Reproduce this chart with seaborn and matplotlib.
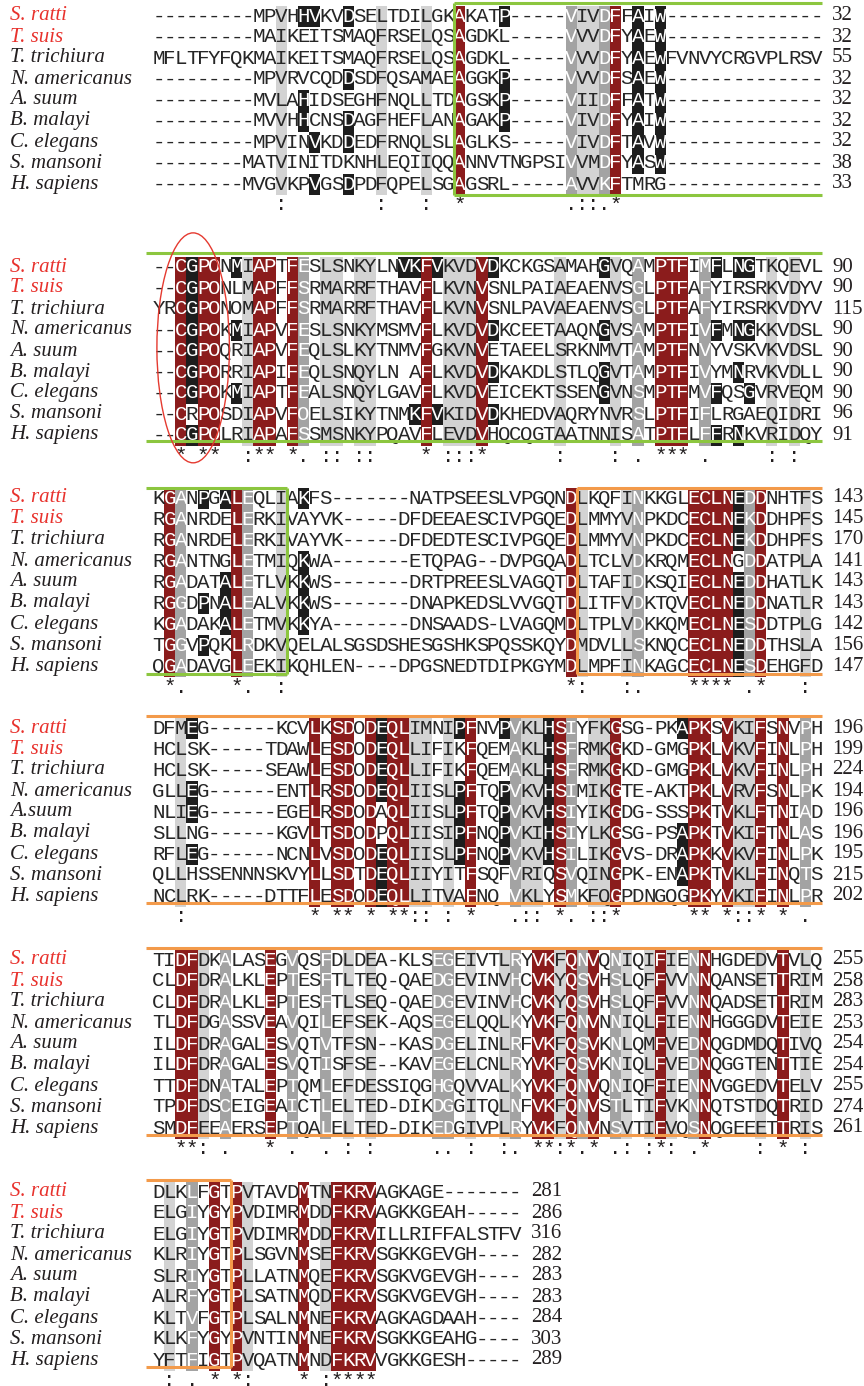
import numpy as np
import seaborn as sns
import matplotlib
matplotlib.use("Agg")
import matplotlib.pyplot as plt
from matplotlib.colors import ListedColormap
from matplotlib.patches import Ellipse

sns.set_theme(style="white")
plt.rcParams["font.family"] = ["DejaVu Sans"]

# Species order (same in every block); block 4 prints "A.suum" without a space
SPECIES = ["S. ratti", "T. suis", "T. trichiura", "N. americanus", "A. suum",
           "B. malayi", "C. elegans", "S. mansoni", "H. sapiens"]
SPECIES_B4 = ["S. ratti", "T. suis", "T. trichiura", "N. americanus", "A.suum",
              "B. malayi", "C. elegans", "S. mansoni", "H. sapiens"]
RED_NAMES = ["S. ratti", "T. suis"]

# Aligned sequences; lower-case letters are residues boxed in black
B1_SEQ = [
    "---------MPVHhvKVdSELTDILGKAKATp-----VIVDFFaIw--------------",
    "---------MAIKEITSMAQFRSELQSAGDKL-----VVVDFYaEw--------------",
    "MFLTFYFQKMAIKEITSMAQFRSELQSAGDKL-----VVVDFYaEwFVNVYCRGVPLRSV",
    "---------MPVRVCQDdSDFQSAMAEAGGKp-----VVVDFSaEw--------------",
    "---------MVLAhIDSEGHFNQLLTDAGSKp-----VIIDFFaTw--------------",
    "---------MVVHhCNSdAGFHEFLANAGAKp-----VIVDFYaIw--------------",
    "---------MPVINvKDdEDFRNQLSLAGLKS-----VIVDFTaVw--------------",
    "--------MATVINITDKNHLEQIIQQANNVTNGPSIVVMDFYaSw--------------",
    "--------MVGVKPvGSdPDFQPELSGAGSRL-----AVVKFTMRG--------------",
]
B1_CONS = ("          " " :        " ":   :  *  " "       .::" ".*        " "          ")
B1_END = [32, 32, 55, 32, 32, 32, 32, 38, 33]

B2_SEQ = [
    "--CgPONmIAPTFESLSNKYLNvkFvKVDVdKCKGSAMAHgVQAMPTFIMfLngTKQEVL",
    "--CgPONLMAPFFSRMARRFTHAVFLKVNVSNLPAIAEAENVSGLPTFAFYIRSRKVDYV",
    "YRCgPONOMAPFFSRMARRFTHAVFLKVNVSNLPAVAEAENVSGLPTFAFYIRSRKVDYV",
    "--CgPOKmIAPVFESLSNKYMSMVFLKVDVdKCEETAAQNgVSAMPTFIVfMngKKVDSL",
    "--CgPOQRIAPVFEQLSLKYTNMVFGKVNVETAEELSRKNMVTAMPTFNVYVSKVKVDSL",
    "--CgPORRIAPIFEQLSNQYLN AFLKVDVdKAKDLSTLQgVTAMPTFIVYMnRVKVDLL",
    "--CgPOKmIAPTFEALSNQYLGAVFLKVDVEICEKTSSENgVNSMPTFMVfQSgVRVEQM",
    "--CRPOSDIAPVFOELSIKYTNMkFvKIDVdKHEDVAQRYNVRSLPTFIFLRGAEQIDRI",
    "--CgPOLRIAPAFSSMSNKYPQAVFLEVDVHQCQGTAATNNISATPTFLFfRnKVRIDQY",
]
B2_CONS = ("  * **  :*" "* *. :: ::" "    * :::*" "      :   " " : . *** ." "     : :  ")
B2_END = [90, 90, 115, 90, 90, 90, 90, 96, 91]

B3_SEQ = [
    "KGANpGaLEQLIAkFS-------NATPSEESLVPGQNDLKQFINKKGLECLNeDDNHTFS",
    "RGANRDELERKIVAYVK-----DFDEEAESCIVPGQEDLMMYVNPKDCECLNeKDDHPFS",
    "RGANRDELERKIVAYVK-----DFDEDTESCIVPGQEDLMMYVNPKDCECLNeKDDHPFS",
    "RGANTNGLETMIQkWA-------ETQPAG--DVPGQADLTCLVDKRQMECLNGDDATPLA",
    "RGADATaLETLVKkWS-------DRTPREESLVAGQTDLTAFIDKSQIECLNeDDHATLK",
    "RGGDpNaLEALVKkWS-------DNAPKEDSLVVGQTDLITFVDKTQVECLNeDDNATLR",
    "KGADAKaLETMVKkYA-------DNSAADS-LVAGQMDLTPLVDKKQMECLNeSDDTPLG",
    "TGGVpQKLRDKVQELALSGSDSHESGSHKSPQSSKQYDMDVLLSKNQCECLNeDDTHSLA",
    "QGADAVGLEEKIKQHLEN----DPGSNEDTDIPKGYMDLMPFINKAGCECLNeSDEHGFD",
]
B3_CONS = (" *.    *. " " :        " "          " "       *: " "  :.    **" "** .*   : ")
B3_END = [143, 145, 170, 141, 143, 143, 142, 156, 147]

B4_SEQ = [
    "DFMeG------KCVLKSDODeQLIMNIpFNVpVKLhSIYFKGSG-PKaPKSVKIFSNVPH",
    "HCLSK-----TDAWLESDODeQLLIFIKFQEMAKLhSFRMKGKD-GMGPKLVKVFINLPH",
    "HCLSK-----SEAWLESDODeQLLIFIKFQEMAKLhSFRMKGKD-GMGPKLVKVFINLPH",
    "GLLeG------ENTLRSDODeQLIISLpFTQpVKVhSIMIKGTE-AKTPKLVRVFSNLPK",
    "NLIeG------EGELRSDODAQLIISLpFTQpVKVhSIYIKGDG-SSSPKTVKLFTNIAD",
    "SLLNG------KGVLTSDODPQLIISIpFNQpVKIhSIYLKGSG-PSaPKTVKIFTNLAS",
    "RFLeG------NCNLVSDODeQLIISLpFNQpVKVhSILIKGVS-DRaPKKVKVFINLPK",
    "QLLHSSENNNSKVYLLSDTDeQLIIYITFSQFVRIQSVQINGPK-ENaPKTVKLFINQTS",
    "NCLRK-----DTTFLESDODeQLLITVAFNQ VKLYSMKFQGPDNGQGPKYVKIFINLPR",
]
B4_CONS = ("  :       " "    * ** *" " **:: : * " "  .:: *. :" ":*      **" " *::* * . ")
B4_END = [196, 199, 224, 194, 196, 196, 195, 215, 202]

B5_SEQ = [
    "TIDFDKALASEGVQSFDLDEA-KLSEGEIVTLRYVKFQNVQNIQIFIENNHGDEDVTVLQ",
    "CLDFDRALKLEPTESFTLTEQ-QAEDGEVINVHCVKYQSVHSLQFFVVNNQANSETTRIM",
    "CLDFDRALKLEPTESFTLSEQ-QAEDGEVINVHCVKYQSVHSLQFFVVNNQADSETTRIM",
    "TLDFDGASSVEAVQILEFSEK-AQSEGELQQLKYVKFQNVNNIQLFIENNHGGGDVTEIE",
    "ILDFDRAGALESVQTVTFSN--KASDGELINLRFVKFQSVKNLQMFVEDNQGDMDQTIVQ",
    "ILDFDRAGALESVQTISFSE--KAVEGELCNLRYVKFQSVKNIQLFVEDNQGGTENTTIE",
    "TTDFDNATALEPTQMLEFDESSIQGHGQVVALKYVKFQNVQNIQFFIENNVGGEDVTELV",
    "TPDFDSCEIGEAICTLELTED-DIKDGGITQLNFVKFQNVSTLTIFVKNNQTSTDQTRID",
    "SMDFEEAERSEPTQALELTED-DIKEDGIVPLRYVKFQNVNSVTIFVQSNQGEEETTRIS",
]
B5_CONS = ("  **: .   " "* .  . : :" "     .. : " " :. **:*.*" " .: :*: .*" "    : * : ")
B5_END = [255, 258, 283, 253, 254, 254, 255, 274, 261]

B6_SEQ = [
    "DLKLFGTPVTAVDMTNFKRVAGKAGE-------",
    "ELGIYGYPVDIMRMDDFKRVAGKKGEAH-----",
    "ELGIYGTPVDIMRMDDFKRVILLRIFFALSTFV",
    "KLRIYGTPLSGVNMSEFKRVSGKKGEVGH----",
    "SLRIYGTPLLATNMQEFKRVSGKVGEVGH----",
    "ALRFYGTPLSATNMQDFKRVSGKVGEVGH----",
    "KLTVFGTPLSALNMNEFKRVAGKAGDAAH----",
    "KLKFYGYPVNTINMNEFKRVSGKKGEAHG----",
    "YFTFIGTPVQATNMNDFKRVVGKKGESH-----",
]
B6_CONS = (" : . * *: " "   * :****" "             ")
B6_END = [281, 286, 316, 282, 283, 283, 284, 303, 289]

BLOCKS = [
    (B1_SEQ, B1_CONS, B1_END, SPECIES),
    (B2_SEQ, B2_CONS, B2_END, SPECIES),
    (B3_SEQ, B3_CONS, B3_END, SPECIES),
    (B4_SEQ, B4_CONS, B4_END, SPECIES_B4),
    (B5_SEQ, B5_CONS, B5_END, SPECIES),
    (B6_SEQ, B6_CONS, B6_END, SPECIES),
]

# ---- layout (pixels) ----
W, H = 864, 1386
CW = 11.15          # width of one alignment column
PITCH = 21.0        # height of one sequence row
X0 = 153            # left edge of the alignment
ROW0 = [16, 267, 498, 728, 960, 1192]   # centre of first row in each block

GREEN = "#8cc63f"
ORANGE = "#f39a4a"
NAME_RED = "#e8322d"
INK = "#231f20"
SHADES = ListedColormap(["#ffffff", "#d3d3d3", "#a3a3a3", "#8b1c1c", "#1d1d1d"])
CODE = {" ": 0, ":": 1, ".": 2, "*": 3}
MONO = "Liberation Mono"
SERIF = "Liberation Serif"
SEQ_SIZE = 15

fig = plt.figure(figsize=(W / 100, H / 100), dpi=100)
fig.patch.set_facecolor("white")


def px_box(x, top, w, h):
    return [x / W, 1 - (top + h) / H, w / W, h / H]


axes = []
for b, (seqs, cons, ends, names) in enumerate(BLOCKS):
    ncol = len(cons)
    rows = [s.ljust(ncol)[:ncol] for s in seqs]
    letters = np.array([list(s.upper()) for s in rows])
    classes = np.array([[4 if ch.islower() else CODE[cons[c]]
                         for c, ch in enumerate(s)] for s in rows])
    top = ROW0[b] - PITCH / 2
    ax = fig.add_axes(px_box(X0, top, ncol * CW, 9 * PITCH))
    sns.heatmap(classes, cmap=SHADES, vmin=-0.5, vmax=4.5, cbar=False,
                annot=letters, fmt="",
                annot_kws=dict(fontsize=SEQ_SIZE, family=MONO),
                xticklabels=False, yticklabels=False, linewidths=0, ax=ax)
    ax.set_xlim(0, ncol)
    ax.set_ylim(9, 0)
    axes.append(ax)

    # conservation line
    for c, sym in enumerate(cons):
        if sym != " ":
            ax.text(c + 0.5, 9.5, sym, ha="center", va="center",
                    family=MONO, fontsize=SEQ_SIZE, color=INK, clip_on=False)

    # species names and running residue counts
    for r, (name, end) in enumerate(zip(names, ends)):
        y = 1 - (ROW0[b] + r * PITCH) / H
        fig.text(10 / W, y, name, ha="left", va="center", family=SERIF,
                 style="italic", fontsize=15,
                 color=NAME_RED if name in RED_NAMES else INK)
        fig.text((X0 + ncol * CW + 10) / W, y, str(end), ha="left",
                 va="center", family=SERIF, fontsize=15, color=INK)


def hline(ax, x0, x1, y, color):
    ax.plot([x0, x1], [y, y], color=color, lw=2.2, clip_on=False,
            zorder=6, solid_capstyle="butt")


def vline(ax, x, y0, y1, color):
    ax.plot([x, x], [y0, y1], color=color, lw=2.2, clip_on=False,
            zorder=6, solid_capstyle="butt")


LEFT = -0.65
# block 1: region boxed in green from column 27
ax = axes[0]
hline(ax, 27, 60, -0.12, GREEN)
hline(ax, 27, 60, 9.02, GREEN)
vline(ax, 27, -0.12, 9.02, GREEN)
# block 2: green box across whole width, with the C-G-P-Q motif circled
ax = axes[1]
hline(ax, LEFT, 60, -0.17, GREEN)
hline(ax, LEFT, 60, 8.8, GREEN)
ax.add_patch(Ellipse((3.6, 4.35), 6.5, 10.95, fill=False, edgecolor="#e53a30",
                     lw=1.0, clip_on=False, zorder=7))
# block 3: end of the green box, start of the orange box
ax = axes[2]
hline(ax, LEFT, 12, 0.0, GREEN)
hline(ax, LEFT, 12, 8.88, GREEN)
vline(ax, 12, 0.0, 8.88, GREEN)
hline(ax, 38, 60, 0.0, ORANGE)
hline(ax, 38, 60, 8.88, ORANGE)
vline(ax, 38, 0.0, 8.88, ORANGE)
# blocks 4 and 5: orange box across whole width
for ax in axes[3:5]:
    hline(ax, LEFT, 60, -0.05, ORANGE)
    hline(ax, LEFT, 60, 8.85, ORANGE)
# block 6: end of the orange box
ax = axes[5]
hline(ax, LEFT, 7, -0.05, ORANGE)
hline(ax, LEFT, 7, 8.85, ORANGE)
vline(ax, 7, -0.05, 8.85, ORANGE)

fig.savefig("out.png", dpi=100, facecolor="white")
